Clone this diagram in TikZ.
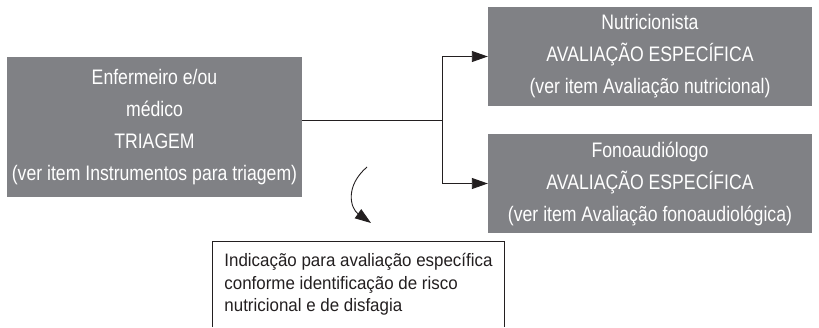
\documentclass[tikz,border=0pt]{standalone}
\usepackage{fontspec}
\setmainfont[FakeStretch=0.84]{Liberation Sans}
\newfontfamily\notefont[FakeStretch=0.94]{Liberation Sans}
\usetikzlibrary{arrows.meta}
\usetikzlibrary{positioning}
\definecolor{boxgray}{RGB}{128,129,133}
\definecolor{inkgray}{RGB}{35,31,32}

\begin{document}
\begin{tikzpicture}[x=1pt, y=-1pt, >={Triangle[length=16pt, width=11pt]}]
    \tikzset{
        graybox/.style={fill=boxgray, text=white, align=center, inner sep=0pt,
            font=\fontsize{21}{32}\selectfont},
        notebox/.style={align=left, inner sep=0pt, text=inkgray,
            font=\notefont\fontsize{18}{22.5}\selectfont},
        flowline/.style={line width=0.9pt, inkgray}
    }
    \useasboundingbox (0,0) rectangle (819,327);

    \node [graybox, minimum width=295pt, minimum height=140pt] (triage) at (154.5,127)
        {Enfermeiro e/ou\\médico\\TRIAGEM\\(ver item Instrumentos para triagem)};
    \node [graybox, minimum width=324pt, minimum height=99pt] (nutri) at (650,56.5)
        {Nutricionista\\AVALIAÇÃO ESPECÍFICA\\(ver item Avaliação nutricional)};
    \node [graybox, minimum width=324pt, minimum height=99pt] (fono) at (650,183.5)
        {Fonoaudiólogo\\AVALIAÇÃO ESPECÍFICA\\(ver item Avaliação fonoaudiológica)};

    \node [notebox, minimum width=291pt, minimum height=85pt] (note) at (358.5,284.5)
        {Indicação para avaliação específica\\conforme identificação de risco\\nutricional e de disfagia};
    \draw [line width=0.9pt, inkgray] (note.south west) -- (note.north west) -- (note.north east) -- (note.south east);

    % fork towards the two specific assessments
    \coordinate (fork) at (442,120);
    \draw [flowline] (triage.east |- fork) -- (fork);
    \draw [flowline, ->] (fork) |- (nutri.west);
    \draw [flowline, ->] (fork) |- (fono.west);

    % curved arrow down to the note
    \coordinate (bendstart) at (367,167);
    \coordinate (bendend) at (371,223);
    \draw [flowline, ->] (bendstart) .. controls (345,186) and (350,208) .. (bendend);

\end{tikzpicture}
\end{document}
